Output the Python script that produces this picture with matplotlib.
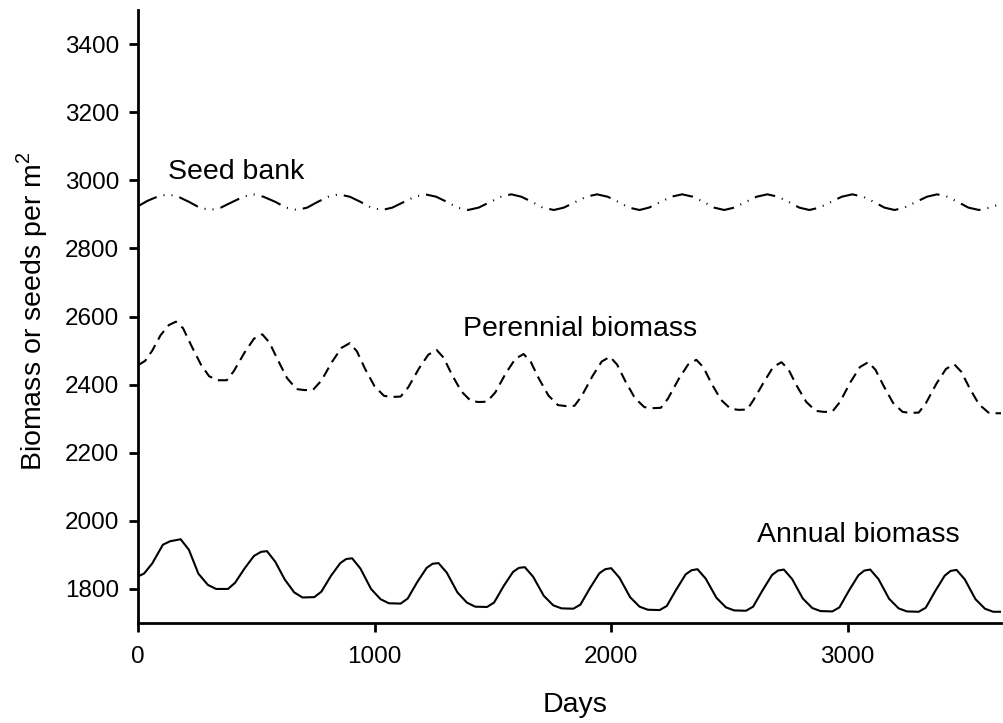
import numpy as np
import matplotlib.pyplot as plt

plt.rcParams['font.family'] = ['Liberation Sans', 'DejaVu Sans']

# annual biomass (solid line)
annual_days = [0, 25, 60, 105, 135, 180, 215, 255, 295, 330, 380,
               410, 450, 490, 520, 545, 580, 620, 660, 695, 745,
               775, 815, 855, 880, 905, 940, 985, 1025, 1060, 1110,
               1140, 1180, 1220, 1245, 1270, 1305, 1350, 1390, 1425, 1475,
               1505, 1545, 1585, 1610, 1635, 1670, 1715, 1755, 1790, 1840,
               1870, 1910, 1950, 1975, 2000, 2035, 2080, 2120, 2155, 2205,
               2235, 2275, 2315, 2340, 2365, 2400, 2445, 2485, 2520, 2570,
               2600, 2640, 2680, 2705, 2730, 2765, 2810, 2850, 2885, 2935,
               2965, 3005, 3045, 3070, 3095, 3130, 3175, 3215, 3250, 3300,
               3330, 3370, 3410, 3435, 3460, 3495, 3540, 3580, 3615, 3650]
annual_vals = [1837, 1845, 1875, 1930, 1940, 1946, 1915, 1845, 1812, 1800, 1800,
               1818, 1860, 1897, 1909, 1911, 1880, 1828, 1790, 1775, 1776,
               1792, 1838, 1876, 1888, 1890, 1860, 1800, 1770, 1758, 1757,
               1772, 1820, 1862, 1874, 1876, 1848, 1790, 1760, 1748, 1747,
               1760, 1808, 1850, 1862, 1864, 1836, 1780, 1752, 1743, 1742,
               1754, 1802, 1846, 1858, 1861, 1833, 1776, 1748, 1739, 1738,
               1750, 1798, 1843, 1855, 1858, 1830, 1774, 1746, 1737, 1736,
               1748, 1796, 1841, 1854, 1857, 1829, 1772, 1744, 1735, 1734,
               1746, 1795, 1840, 1854, 1857, 1829, 1771, 1743, 1734, 1733,
               1745, 1794, 1839, 1853, 1856, 1828, 1770, 1742, 1733, 1733]

# perennial biomass (dashed line)
perennial_days = [0, 30, 60, 95, 130, 160, 190, 225, 265, 300, 335, 375,
                  405, 450, 490, 525, 555, 592, 630, 670, 705, 740,
                  775, 820, 860, 895, 925, 960, 1000, 1040, 1075, 1110,
                  1142, 1187, 1227, 1262, 1292, 1327, 1367, 1407, 1440, 1475,
                  1510, 1555, 1595, 1630, 1660, 1695, 1735, 1775, 1810, 1845,
                  1875, 1920, 1960, 1995, 2025, 2060, 2100, 2140, 2175, 2210,
                  2240, 2285, 2325, 2360, 2390, 2425, 2465, 2505, 2540, 2575,
                  2600, 2645, 2685, 2720, 2750, 2785, 2825, 2865, 2900, 2935,
                  2967, 3012, 3052, 3087, 3117, 3152, 3192, 3232, 3265, 3300,
                  3330, 3375, 3415, 3450, 3480, 3515, 3555, 3595, 3630, 3650]
perennial_vals = [2457, 2470, 2500, 2545, 2575, 2585, 2566, 2515, 2460, 2425, 2413, 2413,
                  2440, 2494, 2535, 2548, 2524, 2471, 2419, 2387, 2384, 2385,
                  2412, 2467, 2508, 2522, 2498, 2446, 2395, 2367, 2364, 2365,
                  2392, 2447, 2488, 2502, 2479, 2429, 2380, 2352, 2349, 2350,
                  2377, 2434, 2476, 2490, 2467, 2417, 2368, 2340, 2337, 2338,
                  2366, 2424, 2468, 2482, 2459, 2410, 2361, 2334, 2331, 2332,
                  2359, 2416, 2459, 2473, 2451, 2402, 2355, 2329, 2326, 2327,
                  2353, 2407, 2452, 2466, 2444, 2396, 2349, 2323, 2320, 2321,
                  2349, 2408, 2452, 2466, 2444, 2396, 2346, 2320, 2317, 2318,
                  2345, 2403, 2446, 2460, 2438, 2390, 2342, 2318, 2316, 2316]

# seed bank (dash-dot-dot line)
seed_days = [0, 40, 85, 127, 170, 215, 260, 305,
             350, 400, 445, 487, 530, 580, 625, 672,
             715, 760, 805, 848, 895, 940, 985, 1032,
             1075, 1125, 1170, 1214, 1260, 1305, 1350, 1395,
             1440, 1490, 1535, 1578, 1620, 1665, 1710, 1758,
             1800, 1850, 1895, 1940, 1985, 2030, 2075, 2120,
             2160, 2210, 2255, 2300, 2345, 2390, 2435, 2478,
             2520, 2570, 2615, 2660, 2705, 2750, 2795, 2838,
             2880, 2930, 2975, 3019, 3065, 3110, 3155, 3198,
             3240, 3290, 3335, 3378, 3420, 3465, 3510, 3555,
             3600, 3650]
seed_vals = [2924, 2940, 2953, 2959, 2952, 2937, 2920, 2913,
             2920, 2937, 2952, 2959, 2952, 2937, 2920, 2913,
             2920, 2937, 2952, 2959, 2952, 2937, 2920, 2913,
             2920, 2937, 2952, 2959, 2952, 2937, 2920, 2913,
             2920, 2937, 2952, 2959, 2952, 2937, 2920, 2913,
             2920, 2937, 2952, 2959, 2952, 2937, 2920, 2913,
             2920, 2937, 2952, 2959, 2952, 2937, 2920, 2913,
             2920, 2937, 2952, 2959, 2952, 2937, 2920, 2913,
             2920, 2937, 2952, 2959, 2952, 2937, 2920, 2913,
             2920, 2937, 2952, 2959, 2952, 2937, 2920, 2913,
             2920, 2932]

fig = plt.figure(figsize=(10.04, 7.23), dpi=100)
ax = fig.add_axes([0.1375, 0.1383, 0.9975 - 0.1375, 0.986 - 0.1383])

lw = 1.5
ax.plot(annual_days, annual_vals, color='black', lw=lw,
        solid_joinstyle='round', solid_capstyle='round')
ax.plot(perennial_days, perennial_vals, color='black', lw=lw, ls=(0, (5, 3)))
ax.plot(seed_days, seed_vals, color='black', lw=lw,
        ls=(0, (10, 3.4, 0.5, 3.4, 0.5, 3.4)))

ax.text(127, 3003, 'Seed bank', fontsize=20.5, va='baseline')
ax.text(1374, 2544, 'Perennial biomass', fontsize=20.5, va='baseline')
ax.text(2617, 1937, 'Annual biomass', fontsize=20.5, va='baseline')

ax.set_xlim(0, 3650)
ax.set_ylim(1700, 3500)
ax.set_xticks([0, 1000, 2000, 3000])
ax.set_yticks(range(1800, 3401, 200))

for s in ['top', 'right']:
    ax.spines[s].set_visible(False)
for s in ['left', 'bottom']:
    ax.spines[s].set_linewidth(2)
ax.tick_params(axis='both', direction='out', length=6.5, width=2, labelsize=17.5)
ax.tick_params(axis='x', pad=10)
ax.tick_params(axis='y', pad=7)

fig.text(575 / 1004, 1 - 705 / 723, 'Days', fontsize=20.5, ha='center', va='center')
fig.text(32 / 1004, 1 - 311 / 723, r'Biomass or seeds per m$^\mathregular{2}$',
         fontsize=20.5, rotation=90, ha='center', va='center')

fig.savefig('out.png', dpi=100)
